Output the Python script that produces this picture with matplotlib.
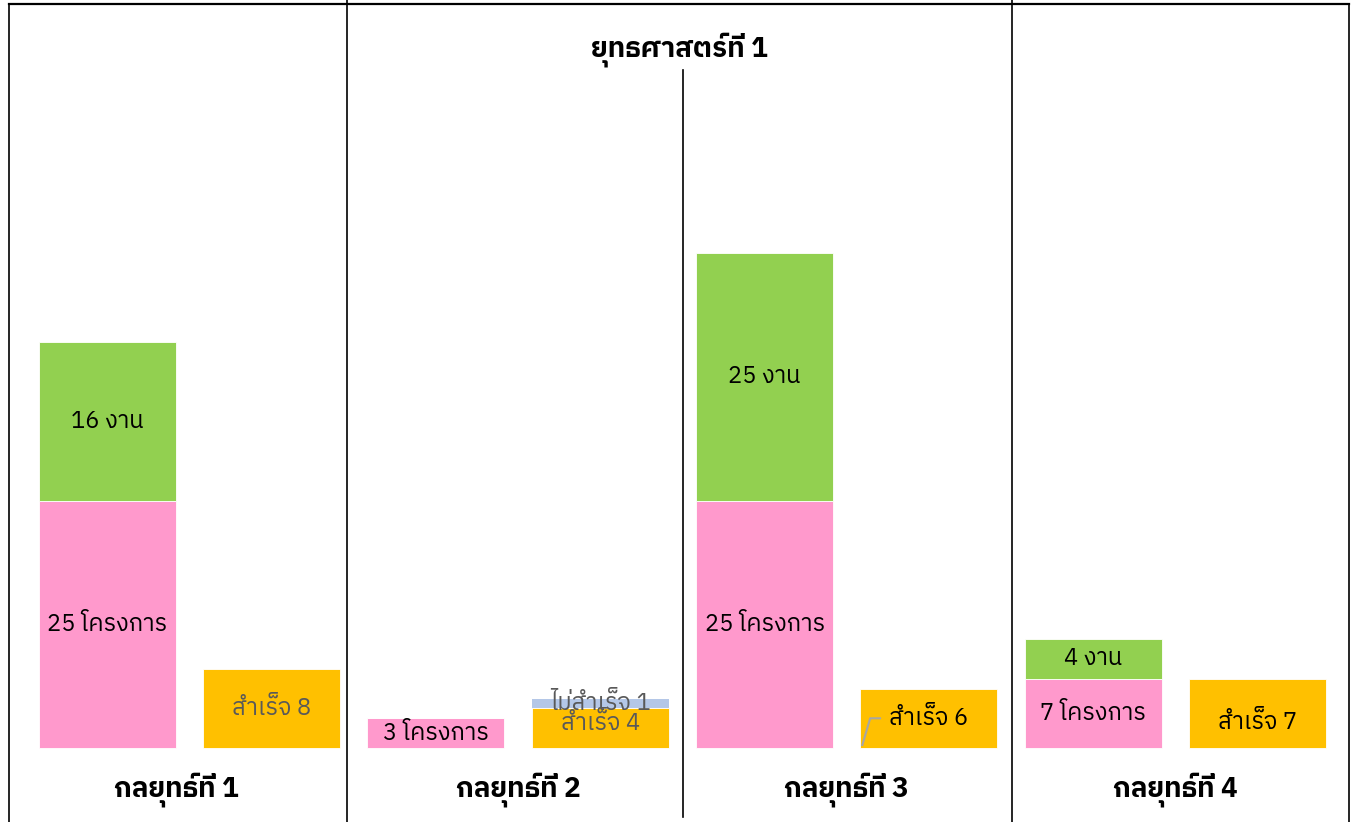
import numpy as np
import matplotlib
matplotlib.use("Agg")
from matplotlib import pyplot as plt
from matplotlib import font_manager
from matplotlib.ft2font import FT2Font
from matplotlib.lines import Line2D


# -----------------------------
# Data
# -----------------------------
title = "ยุทธศาสตร์ที่ 1"
groups = ["กลยุทธ์ที่ 1", "กลยุทธ์ที่ 2", "กลยุทธ์ที่ 3", "กลยุทธ์ที่ 4"]
projects = [25, 3, 25, 7]
tasks = [16, 0, 25, 4]
success = [8, 4, 6, 7]
fail = [0, 1, 0, 0]

PINK = "#FF99CC"
GREEN = "#92D050"
ORANGE = "#FFC000"
BLUE = "#B4C7E7"
GREY_TEXT = "#595959"


# -----------------------------
# Pick a font that has Thai glyphs
# -----------------------------
def findThaiFont():
    preferred = ["Thai", "Sarabun", "Loma", "Garuda", "Tlwg", "Kinnari",
                 "Norasi", "Waree", "Umpush", "Laksaman"]
    found = []
    for f in font_manager.fontManager.ttflist:
        try:
            cmap = FT2Font(f.fname).get_charmap()
        except Exception:
            continue
        if 0x0E01 in cmap and 0x0E32 in cmap:
            found.append(f.name)
    if not found:
        return None
    for p in preferred:
        for name in found:
            if p.lower() in name.lower():
                return name
    return found[0]


thai = findThaiFont()
families = [thai, "DejaVu Sans"] if thai else ["DejaVu Sans"]
plt.rcParams["font.family"] = families

# -----------------------------
# Figure / axes layout
# -----------------------------
W, H = 1356, 822
fig = plt.figure(figsize=(W / 100, H / 100), dpi=100)
ax = fig.add_axes([0, 0, 1, 1])

px_per_group = 328.6
x0_px = 189.5
base_px = 748
px_per_unit = 9.9
ax.set_xlim(-x0_px / px_per_group, (W - x0_px) / px_per_group)
ax.set_ylim(-(H - base_px) / px_per_unit, base_px / px_per_unit)
ax.axis("off")

x = np.arange(len(groups))
width = 0.417
x_left = x - 0.25
x_right = x + 0.25

bars_p = ax.bar(x_left, projects, width, color=PINK, edgecolor="white", linewidth=0.6)
bars_t = ax.bar(x_left, tasks, width, bottom=projects, color=GREEN, edgecolor="white", linewidth=0.6)
bars_s = ax.bar(x_right, success, width, color=ORANGE, edgecolor="white", linewidth=0.6)
bars_f = ax.bar(x_right, fail, width, bottom=success, color=BLUE, edgecolor="none")

# -----------------------------
# Labels inside bars
# -----------------------------
fs = 17
for i in range(len(groups)):
    ax.text(x_left[i], projects[i] / 2, f"{projects[i]} โครงการ",
            ha="center", va="center", fontsize=fs, color="black")
    if tasks[i] > 0:
        ax.text(x_left[i], projects[i] + tasks[i] / 2, f"{tasks[i]} งาน",
                ha="center", va="center", fontsize=fs, color="black")

succ_color = [GREY_TEXT, GREY_TEXT, "black", "black"]
succ_dy = [0, 0.5, 0, -0.9]
for i in range(len(groups)):
    ax.text(x_right[i], success[i] / 2 + succ_dy[i], f"สำเร็จ {success[i]}",
            ha="center", va="center", fontsize=fs, color=succ_color[i])
    if fail[i] > 0:
        ax.text(x_right[i], success[i] + fail[i] / 2, f"ไม่สำเร็จ {fail[i]}",
                ha="center", va="center", fontsize=fs, color=GREY_TEXT)

# leader line for group 3 label
lx = x_right[2] - width / 2
ax.plot([lx + 0.006, lx + 0.03, lx + 0.06],
        [0.3, success[2] / 2, success[2] / 2],
        color="#A6A6A6", linewidth=1.5)

# group names under bars
for i, g in enumerate(groups):
    ax.text(x[i] - (0.04 if i == 0 else 0), -4.25, g, ha="center", va="center",
            fontsize=20, fontweight="bold")

# -----------------------------
# Frame lines and title
# -----------------------------
def vline(xpx, top_px, bottom_px):
    fig.add_artist(Line2D([xpx / W, xpx / W], [1 - top_px / H, 1 - bottom_px / H],
                          transform=fig.transFigure, color="black", linewidth=1.2))


top_y = 4
fig.add_artist(Line2D([8.5 / W, 1348.5 / W], [1 - top_y / H, 1 - top_y / H],
                      transform=fig.transFigure, color="black", linewidth=1.6))
vline(8.5, top_y, H)
vline(1348.5, top_y, H)
vline(347, 0, H)
vline(1012, 0, H)
vline(683, 70, 817)

fig.text(679.5 / W, 1 - 50 / H, title, ha="center", va="center",
         fontsize=20, fontweight="bold")

fig.savefig("out.png", dpi=100)
